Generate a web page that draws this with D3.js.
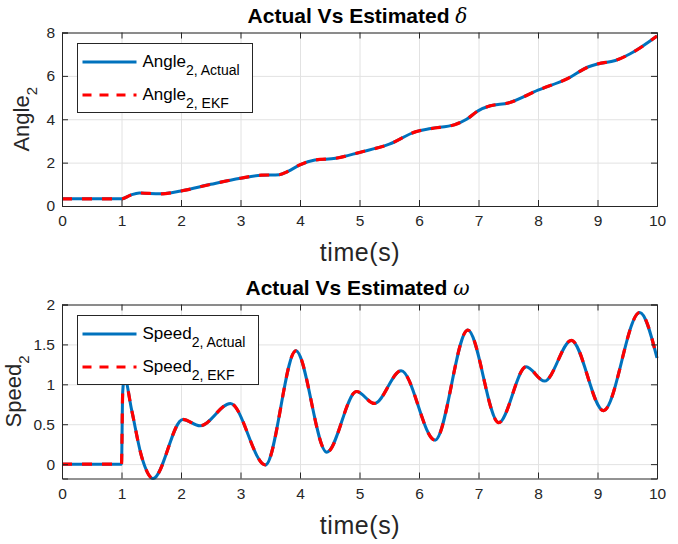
<!DOCTYPE html>
<html>
<head>
<meta charset="utf-8">
<title>Actual Vs Estimated</title>
<script src="https://cdn.jsdelivr.net/npm/d3@7"></script>
<style>
  body { margin: 0; background: #fff; }
  svg { font-family: "Liberation Sans", Arial, sans-serif; }
  .tick text { fill: #262626; font-size: 15.5px; }
  .grid line { stroke: #e2e2e2; }
  .grid path { stroke: none; }
</style>
</head>
<body>
<svg id="vis" width="678" height="544"></svg>
<script>
// time axis ticks
var xTicks = [0, 1, 2, 3, 4, 5, 6, 7, 8, 9, 10];

// top plot: rotor angle of machine 2
var tAngle = [0, 1.0, 1.15, 1.3, 1.65, 2.0, 2.5, 3.0, 3.35, 3.65, 3.8, 4.0, 4.25, 4.6, 5.0, 5.5, 5.95, 6.2, 6.6, 6.8, 7.0, 7.2, 7.5, 8.0, 8.5, 8.85, 9.0, 9.3, 9.55, 10];
var angleActual = [0.33, 0.33, 0.5, 0.6, 0.56, 0.69, 1.0, 1.28, 1.42, 1.44, 1.6, 1.9, 2.12, 2.2, 2.47, 2.85, 3.43, 3.57, 3.75, 4.0, 4.4, 4.62, 4.75, 5.34, 5.88, 6.42, 6.55, 6.71, 7.02, 7.84];
var angleEKF    = [0.33, 0.33, 0.5, 0.6, 0.56, 0.69, 1.0, 1.28, 1.42, 1.44, 1.6, 1.9, 2.12, 2.2, 2.47, 2.85, 3.43, 3.57, 3.75, 4.0, 4.4, 4.62, 4.75, 5.34, 5.88, 6.42, 6.55, 6.71, 7.02, 7.84];
var angleTicks = [0, 2, 4, 6, 8];

// bottom plot: speed of machine 2
var tSpeed = [0, 1.0, 1.02, 1.05, 1.17, 1.34, 1.53, 2.03, 2.32, 2.83, 3.42, 3.93, 4.45, 4.95, 5.25, 5.7, 6.27, 6.82, 7.34, 7.8, 8.11, 8.56, 9.1, 9.71, 10];
var speedActual = [0, 0, 0.9, 1.08, 0.68, 0.09, -0.18, 0.56, 0.48, 0.76, -0.01, 1.42, 0.15, 0.91, 0.76, 1.17, 0.30, 1.68, 0.52, 1.22, 1.04, 1.55, 0.67, 1.90, 1.33];
var speedEKF    = [0, 0, 0.9, 1.08, 0.68, 0.09, -0.18, 0.56, 0.48, 0.76, -0.01, 1.42, 0.15, 0.91, 0.76, 1.17, 0.30, 1.68, 0.52, 1.22, 1.04, 1.55, 0.67, 1.90, 1.33];
var speedTicks = [0, 0.5, 1, 1.5, 2];

var svg = d3.select("#vis");
var left = 62, right = 657;

function drawPanel(o) {
    var x = d3.scaleLinear().domain([0, 10]).range([left, right]);
    var y = d3.scaleLinear().domain(o.yDomain).range([o.bottom, o.top]);
    var g = svg.append("g");
    var h = o.bottom - o.top, w = right - left;

    // grid
    g.append("g").attr("class", "grid").attr("transform", "translate(0," + o.bottom + ")")
        .call(d3.axisBottom(x).tickValues(xTicks).tickSize(-h).tickFormat(""));
    g.append("g").attr("class", "grid").attr("transform", "translate(" + left + ",0)")
        .call(d3.axisLeft(y).tickValues(o.yTicks).tickSize(-w).tickFormat(""));

    // lines
    var pts1 = o.t.map(function (d, i) { return [d, o.actual[i]]; });
    var pts2 = o.t.map(function (d, i) { return [d, o.ekf[i]]; });
    var line = d3.line().x(function (d) { return x(d[0]); }).y(function (d) { return y(d[1]); })
        .curve(d3.curveMonotoneX);
    g.append("path").attr("d", line(pts1)).attr("fill", "none")
        .attr("stroke", "#0072BD").attr("stroke-width", 3);
    g.append("path").attr("d", line(pts2)).attr("fill", "none")
        .attr("stroke", "#FF0000").attr("stroke-width", 3.2).attr("stroke-dasharray", "10,10");

    // axes, ticks inward on all sides
    var fmt = function (d) { return String(d); };
    var ax = g.append("g").attr("transform", "translate(0," + o.bottom + ")")
        .call(d3.axisBottom(x).tickValues(xTicks).tickSize(-6).tickPadding(9).tickFormat(fmt));
    var ay = g.append("g").attr("transform", "translate(" + left + ",0)")
        .call(d3.axisLeft(y).tickValues(o.yTicks).tickSize(-6).tickPadding(7).tickFormat(fmt));
    var at = g.append("g").attr("transform", "translate(0," + o.top + ")")
        .call(d3.axisTop(x).tickValues(xTicks).tickSize(-6).tickFormat(""));
    var ar = g.append("g").attr("transform", "translate(" + right + ",0)")
        .call(d3.axisRight(y).tickValues(o.yTicks).tickSize(-6).tickFormat(""));
    [ax, ay, at, ar].forEach(function (a) {
        a.select(".domain").attr("stroke", "#262626");
        a.selectAll(".tick line").attr("stroke", "#262626");
        a.selectAll(".tick text").style("font-family", "'Liberation Sans', Arial, sans-serif");
    });

    // title
    var tt = g.append("text").attr("x", (left + right) / 2 - 2).attr("y", o.top - 10)
        .attr("text-anchor", "middle").attr("font-size", 21).attr("font-weight", "bold")
        .attr("fill", "#000");
    tt.append("tspan").text("Actual Vs Estimated ");
    tt.append("tspan").text(o.greek).attr("font-family", "'DejaVu Serif', serif")
        .attr("font-style", "italic").attr("font-weight", "normal").attr("font-size", 20);

    // x label
    g.append("text").attr("x", (left + right) / 2 + 0.5).attr("y", o.bottom + 55)
        .attr("text-anchor", "middle").attr("font-size", 25).attr("fill", "#262626")
        .attr("letter-spacing", 0.6).text("time(s)");

    // y label
    var yl = g.append("text")
        .attr("transform", "translate(" + o.ylabelX + "," + ((o.top + o.bottom) / 2) + ") rotate(-90)")
        .attr("text-anchor", "middle").attr("font-size", 22).attr("fill", "#262626");
    yl.append("tspan").text(o.name);
    yl.append("tspan").text("2").attr("font-size", 15).attr("dy", 8);

    // legend
    var lg = g.append("g");
    lg.append("rect").attr("x", 77.5).attr("y", o.legTop + 0.5).attr("width", o.legW).attr("height", 69)
        .attr("fill", "#fff").attr("stroke", "#262626").attr("stroke-width", 1);
    var rows = [
        { sub: "2, Actual", color: "#0072BD", dash: null, w: 3 },
        { sub: "2, EKF", color: "#FF0000", dash: "9,8", w: 3.2 }
    ];
    rows.forEach(function (r, i) {
        var cy = o.legTop + 19 + i * 33;
        lg.append("line").attr("x1", 82.5).attr("x2", 136.5).attr("y1", cy).attr("y2", cy)
            .attr("stroke", r.color).attr("stroke-width", r.w).attr("stroke-dasharray", r.dash);
        var lt = lg.append("text").attr("x", 142.5).attr("y", cy + 5).attr("font-size", 17).attr("fill", "#000");
        lt.append("tspan").text(o.name);
        lt.append("tspan").text(r.sub).attr("font-size", 14).attr("dy", 8);
    });
}

drawPanel({
    top: 32.5, bottom: 206, yDomain: [0, 8], yTicks: angleTicks,
    t: tAngle, actual: angleActual, ekf: angleEKF,
    greek: "δ", name: "Angle", ylabelX: 29, legTop: 43, legW: 175
});

drawPanel({
    top: 304.5, bottom: 478.5, yDomain: [-0.18, 2], yTicks: speedTicks,
    t: tSpeed, actual: speedActual, ekf: speedEKF,
    greek: "ω", name: "Speed", ylabelX: 21, legTop: 315, legW: 181
});
</script>
</body>
</html>
